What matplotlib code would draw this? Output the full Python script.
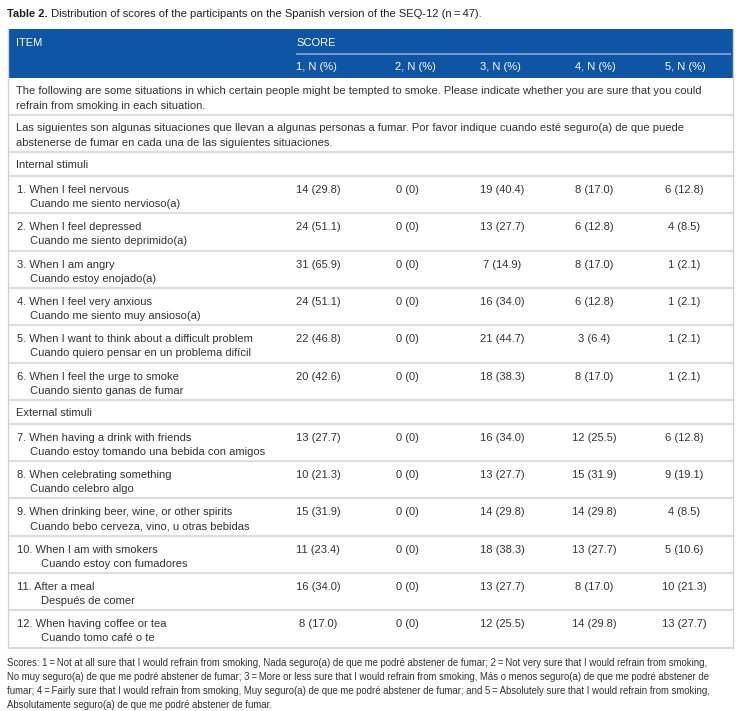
import matplotlib
matplotlib.use("Agg")
import matplotlib.pyplot as plt
from matplotlib.patches import Rectangle

plt.rcParams['font.family'] = ['Liberation Sans', 'DejaVu Sans']

# ---------------- data ----------------
title_bold = "Table 2."
title_text = " Distribution of scores of the participants on the Spanish version of the SEQ-12 (n\u2009=\u200947)."

col_item = "ITEM"
col_score = "SCORE"
score_labels = ["1, N (%)", "2, N (%)", "3, N (%)", "4, N (%)", "5, N (%)"]

intro_en = ["The following are some situations in which certain people might be tempted to smoke. Please indicate whether you are sure that you could",
            "refrain from smoking in each situation."]
intro_es = ["Las siguientes son algunas situaciones que llevan a algunas personas a fumar. Por favor indique cuando esté seguro(a) de que puede",
            "abstenerse de fumar en cada una de las siguientes situaciones."]

section_internal = "Internal stimuli"
section_external = "External stimuli"

items_en = ["When I feel nervous", "When I feel depressed", "When I am angry",
            "When I feel very anxious", "When I want to think about a difficult problem",
            "When I feel the urge to smoke",
            "When having a drink with friends", "When celebrating something",
            "When drinking beer, wine, or other spirits", "When I am with smokers",
            "After a meal", "When having coffee or tea"]
items_es = ["Cuando me siento nervioso(a)", "Cuando me siento deprimido(a)", "Cuando estoy enojado(a)",
            "Cuando me siento muy ansioso(a)", "Cuando quiero pensar en un problema difícil",
            "Cuando siento ganas de fumar",
            "Cuando estoy tomando una bebida con amigos", "Cuando celebro algo",
            "Cuando bebo cerveza, vino, u otras bebidas", "Cuando estoy con fumadores",
            "Después de comer", "Cuando tomo café o te"]

score1_n = [14, 24, 31, 24, 22, 20, 13, 10, 15, 11, 16, 8]
score1_pct = [29.8, 51.1, 65.9, 51.1, 46.8, 42.6, 27.7, 21.3, 31.9, 23.4, 34.0, 17.0]
score2_n = [0, 0, 0, 0, 0, 0, 0, 0, 0, 0, 0, 0]
score2_pct = [0, 0, 0, 0, 0, 0, 0, 0, 0, 0, 0, 0]
score3_n = [19, 13, 7, 16, 21, 18, 16, 13, 14, 18, 13, 12]
score3_pct = [40.4, 27.7, 14.9, 34.0, 44.7, 38.3, 34.0, 27.7, 29.8, 38.3, 27.7, 25.5]
score4_n = [8, 6, 8, 6, 3, 8, 12, 15, 14, 13, 8, 14]
score4_pct = [17.0, 12.8, 17.0, 12.8, 6.4, 17.0, 25.5, 31.9, 29.8, 27.7, 17.0, 29.8]
score5_n = [6, 4, 1, 1, 1, 1, 6, 9, 4, 5, 10, 13]
score5_pct = [12.8, 8.5, 2.1, 2.1, 2.1, 2.1, 12.8, 19.1, 8.5, 10.6, 21.3, 27.7]

footnote = [
    "Scores: 1\u2009=\u2009Not at all sure that I would refrain from smoking, Nada seguro(a) de que me podré abstener de fumar; 2\u2009=\u2009Not very sure that I would refrain from smoking,",
    "No muy seguro(a) de que me podré abstener de fumar; 3\u2009=\u2009More or less sure that I would refrain from smoking, Más o menos seguro(a) de que me podré abstener de",
    "fumar; 4\u2009=\u2009Fairly sure that I would refrain from smoking, Muy seguro(a) de que me podré abstener de fumar; and 5\u2009=\u2009Absolutely sure that I would refrain from smoking,",
    "Absolutamente seguro(a) de que me podré abstener de fumar.",
]

# ---------------- layout ----------------
W, H = 743, 711
fig = plt.figure(figsize=(W / 100, H / 100), dpi=100)
ax = fig.add_axes([0, 0, 1, 1])
ax.set_xlim(0, W)
ax.set_ylim(H, 0)
ax.axis('off')

FS = 8.05
FS_NOTE = 6.9
TXT = '#333333'
BLUE = '#0e56a5'
SEP = '#dddddd'
BORDER = '#d2d2d2'

LEFT, RIGHT = 8, 733
HEAD_TOP, HEAD_BOT = 29, 78
ITEM_H = 37.3
INTRO_H = 37
SEC_H = 24
B1, B2 = 17.0, 31.0   # baselines inside two-line rows

def txt(x, y, s, **kw):
    kw.setdefault('fontsize', FS)
    kw.setdefault('color', TXT)
    kw.setdefault('ha', 'left')
    return ax.text(x, y, s, va='baseline', **kw)

# title
t1 = txt(7, 17, title_bold, fontweight='bold', color='#222222')
ax.annotate(title_text, xy=(1, 0), xycoords=t1, fontsize=FS, color='#222222', va='bottom', ha='left')

# header
ax.add_patch(Rectangle((LEFT, HEAD_TOP), RIGHT - LEFT, HEAD_BOT - HEAD_TOP, facecolor=BLUE, edgecolor='none'))
txt(16, 46, col_item, color='white')
txt(296, 46, col_score, color='white')
ax.plot([296, 731], [54, 54], color='#86a9d4', lw=1.2, solid_capstyle='butt')
label_x = [296, 395, 480, 575, 665]
for x, lab in zip(label_x, score_labels):
    txt(x, 70, lab, color='white')

value_cx = [318, 407, 502, 594, 684]

def sep(y):
    ax.plot([LEFT, RIGHT], [y, y], color=SEP, lw=1.6, solid_capstyle='butt', zorder=1)

y = HEAD_BOT
for lines in (intro_en, intro_es):
    txt(16, y + 16, lines[0])
    txt(16, y + 31, lines[1])
    y += INTRO_H
    sep(y)

scores_n = [score1_n, score2_n, score3_n, score4_n, score5_n]
scores_p = [score1_pct, score2_pct, score3_pct, score4_pct, score5_pct]

def fmt(n, p):
    return f"{n} (0)" if p == 0 else f"{n} ({p:.1f})"

for sec_name, idxs in ((section_internal, range(0, 6)), (section_external, range(6, 12))):
    txt(16, y + 16, sec_name)
    y += SEC_H
    sep(y)
    for i in idxs:
        txt(17, y + B1, f"{i + 1}. " + items_en[i])
        indent = 12.5 if i < 9 else 24
        txt(17 + indent, y + B2, items_es[i])
        for c in range(5):
            txt(value_cx[c], y + B1, fmt(scores_n[c][i], scores_p[c][i]), ha='center')
        y += ITEM_H
        if i != 11:
            sep(y)

bottom = y
ax.plot([LEFT, RIGHT], [bottom, bottom], color=BORDER, lw=1.2, solid_capstyle='butt')
ax.plot([LEFT, LEFT], [HEAD_TOP, bottom], color=BORDER, lw=1.0)
ax.plot([RIGHT, RIGHT], [HEAD_TOP, bottom], color=BORDER, lw=1.0)

for k, line in enumerate(footnote):
    txt(7, 666.5 + k * 14.0, line, fontsize=FS_NOTE)

fig.savefig("out.png", dpi=100)
